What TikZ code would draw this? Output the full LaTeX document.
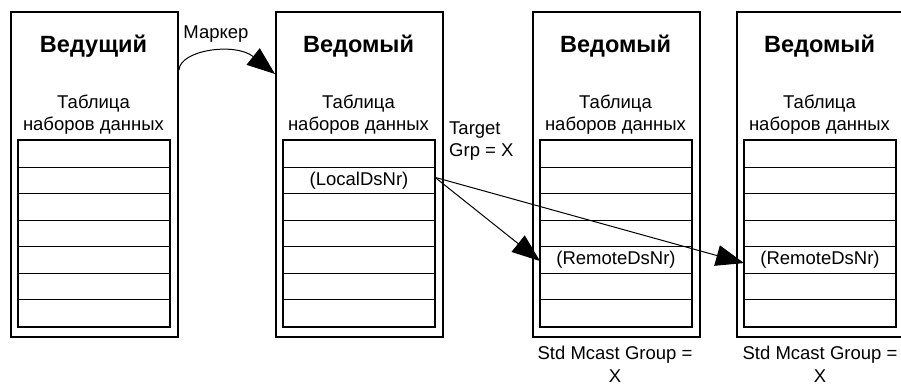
\documentclass[tikz,border=0pt]{standalone}
\usepackage{fontspec}
\setmainfont{Liberation Sans}
\usetikzlibrary{arrows.meta}
\begin{document}
\begin{tikzpicture}[x=1pt,y=-1pt,
  outerbox/.style={draw, line width=2pt, minimum width=167pt, minimum height=325pt, inner sep=0pt, anchor=north west},
  tblrow/.style={draw, line width=1pt, minimum width=151pt, minimum height=26.57pt, inner sep=0pt, anchor=north west},
  rowtxt/.style={font=\fontsize{18.5}{22}\selectfont},
  title/.style={font=\fontsize{23.5}{26}\bfseries\selectfont},
  lbl/.style={font=\fontsize{18.5}{22}\selectfont, align=center, inner sep=0pt},
  arr/.style={line width=1pt, -{Triangle[length=28pt, width=21pt]}}
]
\useasboundingbox (0,0) rectangle (901,385);
\clip (0,0) rectangle (901,385);
% boxes
\foreach \i/\L/\t in {1/10/Ведущий, 2/275/Ведомый, 3/532/Ведомый, 4/736/Ведомый} {
  \node[outerbox] (b\i) at (\L,11) {};
  \node[title] (t\i) at (\L+83.5,46) {\t};
  \node[lbl] (c\i) at (\L+83.5,114.5) {Таблица\\наборов данных};
  \foreach \r in {1,...,7} {
    \node[tblrow] (b\i r\r) at (\L+8,140+26.57*\r-26.57) {};
  }
  \draw[line width=2pt] (b\i r1.north west) rectangle (b\i r7.south east);
}
% row texts
\node[rowtxt] at (b2r2) {(LocalDsNr)};
\node[rowtxt] at (b3r5) {(RemoteDsNr)};
\node[rowtxt] at (b4r5) {(RemoteDsNr)};
% labels
\node[lbl] (mk) at (216,34) {Маркер};
\node[lbl, align=left, anchor=west] (tg) at (449,141.5) {Target\\Grp = X};
\node[lbl, font=\fontsize{18.5}{23}\selectfont, anchor=north] (s3) at (615,346) {Std Mcast Group =\\X};
\node[lbl, font=\fontsize{18.5}{23}\selectfont, anchor=north] (s4) at (820,346) {Std Mcast Group =\\X};
% connectors
\draw[arr] ([yshift=-59pt]b1.north east) .. controls (180,50) and (235,42) .. ([yshift=-63pt]b2.north west);
\draw[arr] ([yshift=3pt]b2r2.east) -- ([yshift=-1pt]b3r5.west);
\draw[arr] ([yshift=3pt]b2r2.east) -- ([yshift=-3pt]b4r5.west);
\end{tikzpicture}
\end{document}
